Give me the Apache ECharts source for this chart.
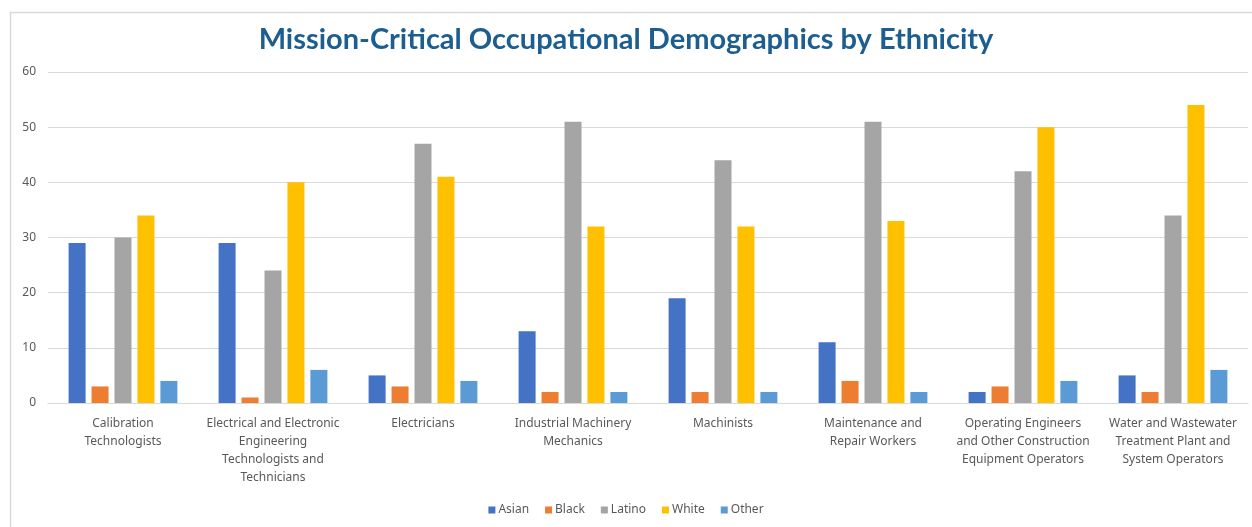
<!DOCTYPE html>
<html>
<head>
<meta charset="utf-8">
<script src="https://cdn.jsdelivr.net/npm/echarts@6/dist/echarts.min.js"></script>
<style>html,body{margin:0;padding:0;background:#fff;}#c{width:1252px;height:527px;}</style>
</head>
<body>
<div id="c"></div>
<script>
const categories = [
  'Calibration\nTechnologists',
  'Electrical and Electronic\nEngineering\nTechnologists and\nTechnicians',
  'Electricians',
  'Industrial Machinery\nMechanics',
  'Machinists',
  'Maintenance and\nRepair Workers',
  'Operating Engineers\nand Other Construction\nEquipment Operators',
  'Water and Wastewater\nTreatment Plant and\nSystem Operators'
];
const seriesNames = ['Asian', 'Black', 'Latino', 'White', 'Other'];
const asian  = [29, 29, 5, 13, 19, 11, 2, 5];
const black  = [3, 1, 3, 2, 2, 4, 3, 2];
const latino = [30, 24, 47, 51, 44, 51, 42, 34];
const white  = [34, 40, 41, 32, 32, 33, 50, 54];
const other  = [4, 6, 4, 2, 2, 2, 4, 6];
const seriesData = [asian, black, latino, white, other];
const colors = ['#4472C4', '#ED7D31', '#A5A5A5', '#FFC000', '#5B9BD5'];

const chart = echarts.init(document.getElementById('c'));
chart.setOption({
  animation: false,
  color: colors,
  title: {
    text: 'Mission-Critical Occupational Demographics by Ethnicity',
    left: 'center',
    top: 20,
    textStyle: { color: '#1B5E8F', fontSize: 29, fontWeight: 'bold', fontFamily: 'Lato' }
  },
  graphic: [{
    type: 'rect', left: 8, top: 10,
    shape: { width: 1260, height: 540 },
    style: { fill: 'none', stroke: '#D9D9D9', lineWidth: 1.5 },
    silent: true, z: -1
  }],
  legend: {
    bottom: 6, left: 'center',
    itemWidth: 7, itemHeight: 7, itemGap: 16,
    icon: 'rect',
    textStyle: { color: '#595959', fontSize: 12, fontFamily: 'Noto Sans', padding: [0, 0, 0, -2] },
    data: seriesNames
  },
  grid: { left: 48, right: 4, top: 72, bottom: 124, containLabel: false },
  xAxis: {
    type: 'category',
    data: categories,
    axisLine: { lineStyle: { color: '#D9D9D9', width: 1 } },
    axisTick: { show: false },
    axisLabel: {
      color: '#595959', fontSize: 12, fontFamily: 'Noto Sans',
      lineHeight: 18, margin: 12, interval: 0
    }
  },
  yAxis: {
    type: 'value', min: 0, max: 60, interval: 10,
    axisLine: { show: false },
    axisTick: { show: false },
    axisLabel: { color: '#595959', fontSize: 12, fontFamily: 'Noto Sans', margin: 12 },
    splitLine: { lineStyle: { color: '#D9D9D9', width: 1 } }
  },
  series: seriesNames.map((n, i) => ({
    name: n, type: 'bar', data: seriesData[i],
    barWidth: 17, barGap: '35%'
  }))
});
</script>
</body>
</html>
